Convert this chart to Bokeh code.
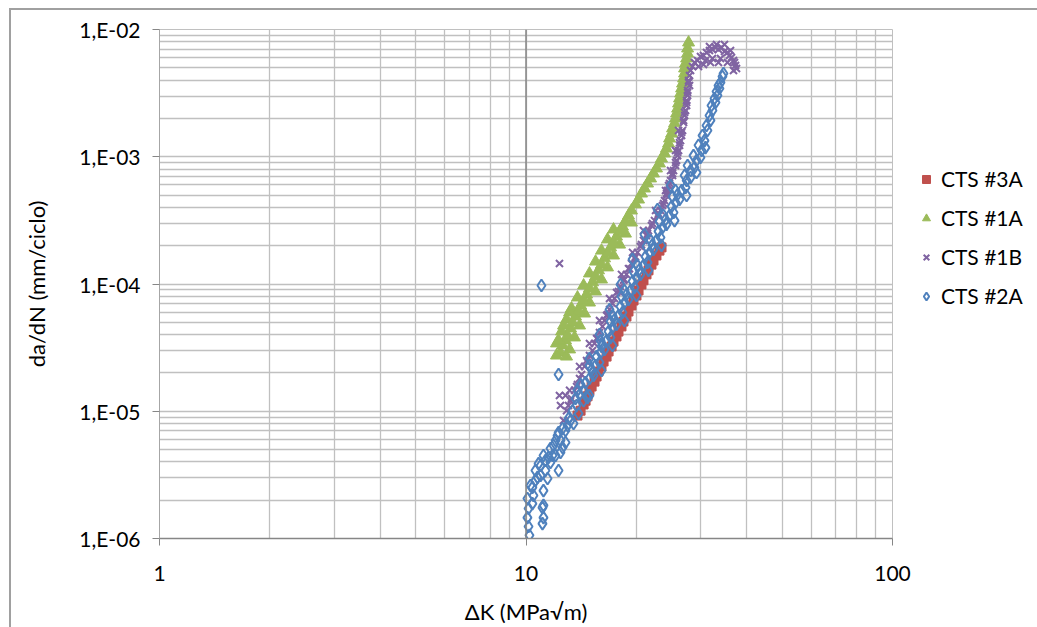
from bokeh.plotting import figure
from bokeh.layouts import row
from bokeh.models import Range1d, FixedTicker, CustomJSTickFormatter, Span, Legend, LegendItem
from bokeh.embed import file_html
from bokeh.resources import INLINE

# ---------------- data (ΔK in MPa√m, da/dN in mm/ciclo) ----------------
series_names = ["CTS #3A", "CTS #1A", "CTS #1B", "CTS #2A"]

cts3a_dk = [13.82, 14.09, 14.36, 14.54, 14.72, 14.90, 15.10, 15.38, 15.58, 15.77, 16.07, 16.28,
            16.59, 16.80, 17.12, 17.33, 17.66, 17.88, 18.22, 18.45, 18.80, 19.04, 19.40, 19.65,
            20.02, 20.28, 20.66, 20.92, 21.32, 21.59, 22.00, 22.28, 22.70, 23.13, 23.43]
cts3a_dadn = [9.25e-6, 1.01e-5, 1.13e-5, 1.21e-5, 1.31e-5, 1.46e-5, 1.565e-5, 1.71e-5, 1.875e-5,
              2.05e-5, 2.25e-5, 2.46e-5, 2.69e-5, 2.95e-5, 3.23e-5, 3.53e-5, 3.87e-5, 4.23e-5,
              4.64e-5, 5.07e-5, 5.55e-5, 6.08e-5, 6.78e-5, 7.42e-5, 8.12e-5, 8.89e-5, 9.91e-5,
              1.07e-4, 1.19e-4, 1.28e-4, 1.42e-4, 1.53e-4, 1.675e-4, 1.83e-4, 1.94e-4]

cts1a_dk = [12.42, 12.82, 13.23, 13.65, 14.09, 14.63, 15.19, 15.77, 16.38, 17.01, 17.66, 18.33,
            19.04, 19.90, 20.66, 21.46, 22.28, 23.13, 23.88, 24.49, 24.96, 25.43, 25.75, 26.08,
            26.41, 26.74, 27.08, 27.25, 27.60, 27.77,
            12.11, 12.11, 12.50, 12.90, 13.31, 13.82, 14.36, 14.90, 15.48, 16.07, 16.69, 17.33,
            13.15, 13.57, 14.00, 14.45, 14.90, 15.48, 16.07, 16.69, 17.33, 18.00, 18.68, 19.40,
            12.90,
            12.58, 12.98, 13.40, 13.91, 14.36, 14.90, 15.48, 16.07, 16.69, 17.33, 18.00, 18.68,
            19.40, 20.28, 21.05, 21.87, 22.70, 23.43, 24.18, 24.64, 25.11, 25.59, 25.92, 26.24,
            26.58, 26.91, 27.08, 27.43, 27.60, 12.27, 12.66, 13.15]
cts1a_dadn = [2.89e-5, 3.60e-5, 4.47e-5, 5.55e-5, 6.78e-5, 8.27e-5, 1.03e-4, 1.28e-4, 1.59e-4,
              1.94e-4, 2.36e-4, 2.83e-4, 3.45e-4, 4.22e-4, 5.14e-4, 6.16e-4, 7.39e-4, 8.85e-4,
              1.06e-3, 1.27e-3, 1.52e-3, 1.83e-3, 2.19e-3, 2.62e-3, 3.14e-3, 3.76e-3, 4.51e-3,
              5.40e-3, 6.48e-3, 7.90e-3,
              2.74e-5, 3.41e-5, 4.23e-5, 5.26e-5, 6.42e-5, 7.83e-5, 9.73e-5, 1.21e-4, 1.50e-4,
              1.83e-4, 2.24e-4, 2.68e-4,
              3.06e-5, 3.80e-5, 4.72e-5, 5.86e-5, 7.15e-5, 8.73e-5, 1.085e-4, 1.35e-4, 1.675e-4,
              2.04e-4, 2.49e-4, 3.04e-4,
              2.69e-5,
              3.29e-5, 3.94e-5, 4.98e-5, 6.08e-5, 7.42e-5, 9.22e-5, 1.145e-4, 1.42e-4, 1.74e-4,
              2.12e-4, 2.59e-4, 3.10e-4, 3.78e-4, 4.61e-4, 5.63e-4, 6.75e-4, 8.09e-4, 9.69e-4,
              1.16e-3, 1.39e-3, 1.67e-3, 2.00e-3, 2.39e-3, 2.87e-3, 3.44e-3, 4.12e-3, 4.94e-3,
              5.92e-3, 7.09e-3, 3.60e-5, 4.72e-5, 5.97e-5]

cts1b_dk = [12.66, 12.90, 13.23, 13.57, 14.00, 14.45, 14.90, 15.38, 15.87, 16.38, 16.90, 17.44,
            18.10, 18.80, 19.40, 20.15, 20.92, 21.59, 22.42, 23.28, 23.88, 24.33, 24.80, 25.27,
            25.75, 26.08, 26.41, 26.74, 26.91, 27.25, 27.43, 27.60, 27.77, 28.12, 28.82, 29.93,
            31.08, 32.27, 33.51, 34.80, 35.91, 36.83, 37.30, 36.83,
            29.56, 30.88, 32.27, 33.94, 35.46, 33.10, 34.80, 31.67, 36.14,
            12.34, 12.34, 12.42, 12.82,
            13.15, 14.00, 14.90, 15.87, 16.90, 18.22, 19.53, 20.92, 22.57, 24.03, 24.80, 25.59, 26.08,
            13.06, 13.82, 14.63, 15.58, 16.59, 17.66, 18.45, 19.04, 19.78, 20.53, 21.32, 22.00,
            22.85, 23.58, 24.18, 24.49, 25.11, 25.59, 25.92, 26.24, 26.58, 27.08, 27.43, 27.60,
            27.94, 28.47, 29.38, 30.50, 31.67, 32.89, 34.15, 35.46, 36.37, 37.06, 37.53, 30.50,
            31.87, 33.51,
            13.31, 13.74, 14.18, 14.72, 15.19, 15.68, 16.17, 16.69, 17.22, 17.88, 18.56, 19.16,
            19.90, 20.66, 21.46, 22.14, 22.99, 23.73, 24.18, 24.64, 25.11, 25.59, 25.92, 26.24,
            26.58, 26.91, 27.08, 27.43, 27.60, 27.77, 27.94]
cts1b_dadn = [8.46e-6, 1.01e-5, 1.21e-5, 1.46e-5, 1.81e-5, 2.25e-5, 2.74e-5, 3.41e-5, 4.16e-5,
              5.17e-5, 6.30e-5, 7.69e-5, 9.56e-5, 1.19e-4, 1.45e-4, 1.77e-4, 2.20e-4, 2.63e-4,
              3.15e-4, 3.78e-4, 4.53e-4, 5.43e-4, 6.51e-4, 7.79e-4, 9.34e-4, 1.12e-3, 1.34e-3,
              1.61e-3, 1.93e-3, 2.31e-3, 2.77e-3, 3.32e-3, 3.97e-3, 4.76e-3, 5.50e-3, 6.14e-3,
              6.60e-3, 6.97e-3, 6.97e-3, 6.72e-3, 6.25e-3, 5.71e-3, 5.21e-3, 4.76e-3,
              5.12e-3, 5.71e-3, 5.92e-3, 5.92e-3, 5.50e-3, 7.62e-3, 7.62e-3, 7.35e-3, 6.84e-3,
              1.45e-4, 1.33e-5, 1.11e-5, 1.33e-5,
              1.46e-5, 2.25e-5, 3.41e-5, 5.17e-5, 7.69e-5, 1.19e-4, 1.77e-4, 2.63e-4, 3.78e-4,
              5.43e-4, 7.79e-4, 1.12e-3, 1.61e-3,
              1.11e-5, 1.62e-5, 2.50e-5, 3.73e-5, 5.66e-5, 8.57e-5, 1.07e-4, 1.32e-4, 1.59e-4,
              1.97e-4, 2.40e-4, 2.88e-4, 3.45e-4, 4.14e-4, 4.96e-4, 5.94e-4, 7.12e-4, 8.54e-4,
              1.02e-3, 1.23e-3, 1.47e-3, 2.11e-3, 2.53e-3, 3.03e-3, 3.63e-3, 5.12e-3, 5.71e-3,
              6.25e-3, 6.84e-3, 7.22e-3, 7.22e-3, 6.60e-3, 6.03e-3, 5.50e-3, 4.94e-3, 5.31e-3,
              5.50e-3, 5.50e-3,
              1.26e-5, 1.565e-5, 1.945e-5, 2.42e-5, 3.00e-5, 3.73e-5, 4.64e-5, 5.76e-5, 7.03e-5,
              8.73e-5, 1.085e-4, 1.32e-4, 1.64e-4, 2.04e-4, 2.49e-4, 2.99e-4, 3.58e-4, 4.29e-4,
              5.14e-4, 6.16e-4, 7.39e-4, 9.01e-4, 1.08e-3, 1.29e-3, 1.55e-3, 1.86e-3, 2.23e-3,
              2.67e-3, 3.20e-3, 3.83e-3, 4.35e-3]

cts2a_dk = [10.22, 10.16, 10.09, 11.09, 11.16, 11.09, 10.16, 10.41, 10.09, 11.16, 10.48, 11.16,
            10.41, 10.75, 11.45, 12.27, 10.82, 11.30, 11.52, 11.66, 11.81, 12.19, 12.58, 12.42,
            12.82, 13.48, 10.61, 10.96, 11.30, 11.16, 11.89, 12.04, 12.27, 12.58, 12.98, 13.23,
            11.02, 12.27, 10.28,
            13.91, 14.36, 14.36, 14.90, 15.48, 15.97, 16.59, 17.22, 17.88, 18.56, 19.28, 20.02,
            20.92, 21.73, 22.70, 23.58, 24.64, 25.59, 26.58, 27.43, 28.12, 29.19, 30.12, 30.69,
            31.27, 31.87, 32.27, 32.89, 33.30, 33.72, 33.94, 34.36, 34.58,
            13.82, 14.90, 15.97, 17.22, 18.56, 20.15, 21.87, 23.73, 25.59,
            14.90, 16.07, 17.22, 18.56, 20.02, 21.59, 23.43, 25.43, 27.43, 29.19,
            13.74, 14.63, 14.09, 15.19, 14.90, 16.07, 15.87, 17.01, 16.90, 18.22, 18.10, 19.65,
            19.53, 21.32, 21.05, 23.13, 22.85, 25.11, 24.80, 27.08, 27.60, 28.64, 29.56, 30.31,
            31.08, 31.67, 32.07, 32.68, 33.10, 33.51, 13.06, 13.40, 13.65,
            11.66, 12.04, 12.42, 12.82, 10.96, 10.61,
            14.72, 15.29, 15.87, 16.38, 17.01, 17.66, 18.33, 19.04, 19.78, 20.53, 21.46, 22.28,
            23.28, 24.18, 25.27, 26.24, 27.25, 28.12, 28.82, 29.93, 30.88,
            14.00, 14.54, 15.10, 15.58, 16.17, 16.80, 17.44, 18.10, 18.80, 19.53, 20.40, 21.19,
            22.14, 22.99, 24.03, 24.96, 25.92]
cts2a_dadn = [1.06e-6, 1.243e-6, 1.46e-6, 1.31e-6, 1.46e-6, 1.75e-6, 1.72e-6, 1.88e-6, 2.06e-6,
              1.82e-6, 2.18e-6, 2.38e-6, 2.52e-6, 3.02e-6, 2.96e-6, 3.42e-6, 3.88e-6, 3.42e-6,
              4.33e-6, 5.10e-6, 4.49e-6, 6.45e-6, 5.19e-6, 5.89e-6, 7.06e-6, 8.01e-6, 3.42e-6,
              3.75e-6, 4.10e-6, 4.49e-6, 5.38e-6, 5.89e-6, 6.81e-6, 7.32e-6, 7.73e-6, 8.46e-6,
              9.73e-5, 1.945e-5, 2.61e-6,
              9.60e-6, 1.21e-5, 1.46e-5, 1.81e-5, 2.29e-5, 2.89e-5, 3.60e-5, 4.55e-5, 5.66e-5,
              7.15e-5, 8.89e-5, 1.125e-4, 1.40e-4, 1.77e-4, 2.20e-4, 2.78e-4, 3.45e-4, 4.37e-4,
              5.43e-4, 6.51e-4, 7.79e-4, 9.34e-4, 1.12e-3, 1.34e-3, 1.61e-3, 1.93e-3, 2.31e-3,
              2.67e-3, 3.03e-3, 3.44e-3, 3.83e-3, 4.27e-3, 4.51e-3,
              1.46e-5, 2.29e-5, 3.60e-5, 5.66e-5, 8.89e-5, 1.40e-4, 2.20e-4, 3.45e-4, 5.43e-4,
              1.33e-5, 2.09e-5, 3.29e-5, 5.17e-5, 8.12e-5, 1.28e-4, 2.01e-4, 3.15e-4, 4.96e-4,
              7.52e-4,
              1.11e-5, 1.31e-5, 1.62e-5, 2.02e-5, 2.60e-5, 3.23e-5, 4.01e-5, 5.07e-5, 6.30e-5,
              7.98e-5, 9.91e-5, 1.25e-4, 1.56e-4, 1.97e-4, 2.45e-4, 3.10e-4, 3.85e-4, 4.87e-4,
              5.94e-4, 7.12e-4, 8.54e-4, 1.02e-3, 1.23e-3, 1.47e-3, 1.76e-3, 2.11e-3, 2.53e-3,
              2.87e-3, 3.26e-3, 3.63e-3, 8.77e-6, 1.01e-5, 1.26e-5,
              3.96e-6, 4.49e-6, 4.74e-6, 5.68e-6, 3.13e-6, 2.86e-6,
              1.28e-5, 1.91e-5, 2.42e-5, 3.06e-5, 3.80e-5, 4.80e-5, 5.97e-5, 7.55e-5, 9.39e-5,
              1.19e-4, 1.48e-4, 1.87e-4, 2.32e-4, 2.94e-4, 3.65e-4, 4.61e-4, 5.73e-4, 6.87e-4,
              8.23e-4, 9.86e-4, 1.18e-3,
              1.35e-5, 1.68e-5, 2.13e-5, 2.69e-5, 3.35e-5, 4.23e-5, 5.26e-5, 6.65e-5, 8.27e-5,
              1.05e-4, 1.30e-4, 1.64e-4, 2.04e-4, 2.59e-4, 3.21e-4, 4.06e-4, 5.05e-4]

x_major = [1, 10, 100]
x_minor = [2, 3, 4, 5, 6, 7, 8, 9, 20, 30, 40, 50, 60, 70, 80, 90]
y_major = [1e-6, 1e-5, 1e-4, 1e-3, 1e-2]
y_minor = [m * d for d in [1e-6, 1e-5, 1e-4, 1e-3] for m in range(2, 10)]

FONT = "Lato"
GRID = "#c0c0c0"
AXIS = "#868686"
COLORS = ["#C0504D", "#9BBB59", "#8064A2", "#4F81BD"]

p = figure(width=902, height=617, x_axis_type="log", y_axis_type="log",
           x_range=Range1d(1, 100), y_range=Range1d(1e-6, 1e-2),
           output_backend="svg", toolbar_location=None,
           min_border_left=148, min_border_right=21, min_border_top=19, min_border_bottom=89)
p.background_fill_color = "white"
p.border_fill_color = "white"
p.outline_line_color = GRID

p.xaxis.ticker = FixedTicker(ticks=x_major, minor_ticks=x_minor)
p.yaxis.ticker = FixedTicker(ticks=y_major, minor_ticks=y_minor)
p.xaxis.formatter = CustomJSTickFormatter(code="return Math.round(tick).toString();")
p.yaxis.formatter = CustomJSTickFormatter(code="""
const e = Math.round(Math.log10(tick));
const s = Math.abs(e).toString().padStart(2, '0');
return '1,E' + (e < 0 ? '-' : '+') + s;
""")

for g in (p.xgrid, p.ygrid):
    g.grid_line_color = GRID
    g.grid_line_width = 1.3
    g.minor_grid_line_color = GRID
    g.minor_grid_line_width = 1.3

for ax in (p.xaxis, p.yaxis):
    ax.major_label_text_font = FONT
    ax.major_label_text_font_size = "21px"
    ax.major_label_text_color = "black"
    ax.axis_label_text_font = FONT
    ax.axis_label_text_font_size = "22px"
    ax.axis_label_text_font_style = "normal"
    ax.axis_label_text_color = "black"
    ax.minor_tick_in = 0
    ax.minor_tick_out = 0
    ax.major_tick_in = 0
    ax.major_tick_out = 7

p.xaxis.axis_label = "ΔK (MPa√m)"
p.yaxis.axis_label = "da/dN (mm/ciclo)"
p.xaxis.axis_line_color = AXIS
p.xaxis.axis_line_width = 1.5
p.xaxis.major_tick_line_color = AXIS
p.xaxis.major_label_standoff = 20
p.xaxis.axis_label_standoff = 14
p.yaxis.axis_line_color = "#a6a6a6"
p.yaxis.major_tick_line_color = AXIS
p.yaxis.major_label_standoff = 12
p.yaxis.axis_label_standoff = 26

p.add_layout(Span(location=10, dimension="height", line_color=AXIS, line_width=1.5))

p.scatter(cts3a_dk, cts3a_dadn, marker="square", size=9,
          fill_color=COLORS[0], line_color=COLORS[0])
p.scatter(cts1a_dk, cts1a_dadn, marker="triangle", size=12,
          fill_color=COLORS[1], line_color=COLORS[1])
p.scatter(cts1b_dk, cts1b_dadn, marker="x", size=10,
          line_color=COLORS[2], line_width=2)
p.scatter(cts2a_dk, cts2a_dadn, marker="diamond", size=12,
          fill_color="white", fill_alpha=0, line_color=COLORS[3], line_width=2)

# legend panel beside the plot area; its renderers hold the same series, outside its view
q = figure(width=124, height=617, x_range=Range1d(0, 1), y_range=Range1d(0, 1),
           output_backend="svg", toolbar_location=None,
           x_axis_location=None, y_axis_location=None,
           min_border_left=0, min_border_right=0, min_border_top=0, min_border_bottom=0)
q.grid.visible = False
q.outline_line_color = None
q.background_fill_color = "white"
q.border_fill_color = "white"
lr = [
    q.scatter(cts3a_dk, cts3a_dadn, marker="square", size=8,
              fill_color=COLORS[0], line_color=COLORS[0]),
    q.scatter(cts1a_dk, cts1a_dadn, marker="triangle", size=9,
              fill_color=COLORS[1], line_color=COLORS[1]),
    q.scatter(cts1b_dk, cts1b_dadn, marker="x", size=8, line_color=COLORS[2], line_width=2),
    q.scatter(cts2a_dk, cts2a_dadn, marker="diamond", size=9, fill_alpha=0,
              line_color=COLORS[3], line_width=2),
]
legend = Legend(items=[LegendItem(label=n, renderers=[r]) for n, r in zip(series_names, lr)],
                location=(3, 230), orientation="vertical",
                glyph_width=20, glyph_height=24, label_height=24, spacing=14,
                label_standoff=5, padding=0, margin=0,
                border_line_alpha=0, background_fill_alpha=0,
                label_text_font=FONT, label_text_font_size="21px", label_text_color="black")
q.add_layout(legend)

layout = row(p, q, styles={"margin-left": "9px", "margin-top": "8px",
                           "border-left": "2px solid #a0a0a0",
                           "border-top": "2px solid #a0a0a0"})

open("out.html", "w").write(file_html(layout, INLINE))
